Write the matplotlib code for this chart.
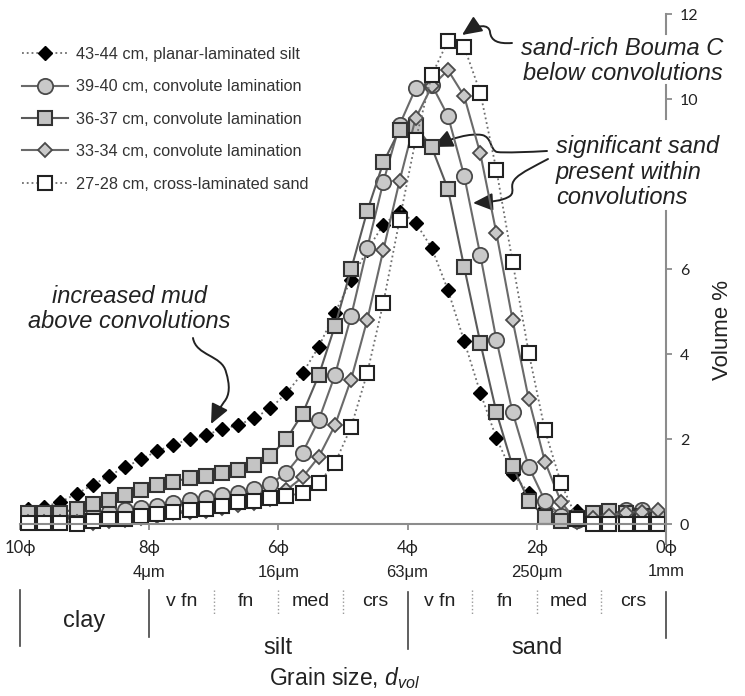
import matplotlib
matplotlib.use('Agg')
import matplotlib.pyplot as plt
import matplotlib.transforms as mtransforms
from matplotlib import font_manager
from matplotlib.path import Path
from matplotlib.patches import FancyArrowPatch

plt.rcParams['font.family'] = ['Liberation Sans', 'DejaVu Sans']
plt.rcParams['mathtext.fontset'] = 'custom'
plt.rcParams['mathtext.it'] = 'Liberation Sans:italic'
plt.rcParams['mathtext.rm'] = 'Liberation Sans'

# grain size bins (phi), coarse to the right
phi = [9.875, 9.625, 9.375, 9.125, 8.875, 8.625, 8.375, 8.125, 7.875, 7.625,
       7.375, 7.125, 6.875, 6.625, 6.375, 6.125, 5.875, 5.625, 5.375, 5.125,
       4.875, 4.625, 4.375, 4.125, 3.875, 3.625, 3.375, 3.125, 2.875, 2.625,
       2.375, 2.125, 1.875, 1.625, 1.375, 1.125, 0.875, 0.625, 0.375, 0.125]

# volume % per sample
v43 = [0.35, 0.40, 0.52, 0.71, 0.92, 1.13, 1.34, 1.52, 1.72, 1.86,
       2.00, 2.09, 2.23, 2.33, 2.49, 2.72, 3.08, 3.55, 4.17, 4.97,
       5.74, 6.45, 7.04, 7.35, 7.09, 6.49, 5.50, 4.31, 3.09, 2.02,
       1.18, 0.74, 0.38, 0.22, 0.31, 0.00, 0.00, 0.00, 0.00, 0.00]
v39 = [0.15, 0.15, 0.17, 0.20, 0.22, 0.29, 0.33, 0.37, 0.42, 0.50,
       0.56, 0.62, 0.68, 0.74, 0.82, 0.94, 1.21, 1.68, 2.45, 3.50,
       4.89, 6.49, 8.05, 9.39, 10.25, 10.33, 9.60, 8.20, 6.33, 4.33,
       2.63, 1.35, 0.55, 0.19, 0.10, 0.15, 0.22, 0.33, 0.33, 0.22]
v36 = [0.25, 0.25, 0.27, 0.35, 0.47, 0.56, 0.68, 0.80, 0.92, 1.00,
       1.08, 1.13, 1.19, 1.27, 1.39, 1.60, 2.00, 2.60, 3.50, 4.66,
       5.99, 7.36, 8.51, 9.27, 9.36, 8.86, 7.88, 6.05, 4.27, 2.63,
       1.36, 0.55, 0.16, 0.08, 0.15, 0.27, 0.30, 0.25, 0.20, 0.15]
v33 = [0.05, 0.05, 0.05, 0.05, 0.02, 0.08, 0.10, 0.15, 0.20, 0.25,
       0.28, 0.30, 0.38, 0.45, 0.50, 0.58, 0.80, 1.10, 1.58, 2.32,
       3.40, 4.80, 6.45, 8.07, 9.55, 10.30, 10.68, 10.07, 8.72, 6.84,
       4.80, 2.94, 1.47, 0.52, 0.05, 0.15, 0.20, 0.27, 0.29, 0.33]
v27 = [0.02, 0.02, 0.02, 0.00, 0.08, 0.11, 0.11, 0.19, 0.24, 0.29,
       0.32, 0.35, 0.43, 0.52, 0.54, 0.61, 0.65, 0.74, 0.97, 1.43,
       2.28, 3.55, 5.21, 7.15, 9.04, 10.56, 11.37, 11.23, 10.15, 8.33,
       6.17, 4.03, 2.21, 0.96, 0.11, 0.00, 0.00, 0.00, 0.00, 0.00]

labels = ['43-44 cm, planar-laminated silt',
          '39-40 cm, convolute lamination',
          '36-37 cm, convolute lamination',
          '33-34 cm, convolute lamination',
          '27-28 cm, cross-laminated sand']

phi_ticks = [10, 8, 6, 4, 2, 0]
phi_labels = ['10\u03d5', '8\u03d5', '6\u03d5', '4\u03d5', '2\u03d5', '0\u03d5']
um_ticks = [8, 6, 4, 2, 0]
um_labels = ['4\u03bcm', '16\u03bcm', '63\u03bcm', '250\u03bcm', '1mm']
y_ticks = [0, 2, 4, 6, 10, 12]

sub_pos = [7.5, 6.5, 5.5, 4.5, 3.5, 2.5, 1.5, 0.5]
sub_labels = ['v fn', 'fn', 'med', 'crs', 'v fn', 'fn', 'med', 'crs']

names = {f.name for f in font_manager.fontManager.ttflist}
narrow = 'Liberation Sans Narrow' if 'Liberation Sans Narrow' in names else 'Liberation Sans'
numfont = ['Lato', 'DejaVu Sans']

W, H = 745, 696
fig = plt.figure(figsize=(W / 100, H / 100), dpi=100)
ax = fig.add_axes([20 / W, 1 - 545.25 / H, 646 / W, 539.75 / H])
ax.set_xlim(10, 0)
ax.set_ylim(-0.5, 12.2)


def px2d(px, py):
    return (10 - (px - 20) / 64.6, (524 - py) / 42.5)


def fy(py):
    return 1 - py / H


ax.plot(phi, v43, ls=':', color='#6e6e6e', lw=1.3, marker='D', ms=7,
        mfc='black', mec='black', label=labels[0])
ax.plot(phi, v39, ls='-', color='#6a6a6a', lw=1.5, marker='o', ms=11,
        mfc='#c9c9c9', mec='#4a4a4a', mew=1.3, label=labels[1])
ax.plot(phi, v36, ls='-', color='#5a5a5a', lw=1.5, marker='s', ms=9.6,
        mfc='#c4c4c4', mec='#333333', mew=1.5, label=labels[2])
ax.plot(phi, v33, ls='-', color='#6a6a6a', lw=1.5, marker='D', ms=7.3,
        mfc='#c9c9c9', mec='#4a4a4a', mew=1.3, label=labels[3])
ax.plot(phi, v27, ls=':', color='#6e6e6e', lw=1.3, marker='s', ms=9.6,
        mfc='white', mec='#222222', mew=1.5, label=labels[4])

# axes
for s in ['left', 'top']:
    ax.spines[s].set_visible(False)
ax.spines['bottom'].set_position(('data', 0))
ax.spines['bottom'].set_color('#8c8c8c')
ax.spines['bottom'].set_linewidth(1.5)
ax.spines['right'].set_color('#8c8c8c')
ax.spines['right'].set_linewidth(1.5)
ax.spines['right'].set_bounds(-0.47, 7.36)
for lo, hi in [(9.53, 10.33), (11.53, 12.0)]:
    ax.plot([0, 0], [lo, hi], color='#8c8c8c', lw=1.5, clip_on=False)

ax.yaxis.tick_right()
ax.set_yticks(y_ticks)
ax.tick_params(axis='y', direction='out', length=4, width=1.3, color='#8c8c8c',
               pad=6, labelsize=11.5, labelcolor='#222222')
for t in ax.get_yticklabels():
    t.set_fontfamily(numfont)
ax.set_xticks(phi_ticks)
ax.set_xticklabels([''] * len(phi_ticks))
ax.tick_params(axis='x', direction='out', length=4, width=1.3, color='#8c8c8c')

bt = mtransforms.blended_transform_factory(ax.transData, fig.transFigure)
for p, lab in zip(phi_ticks, phi_labels):
    ax.text(p, fy(548), lab, transform=bt, ha='center', va='center',
            fontsize=12, family=numfont, color='#222222')
for p, lab in zip(um_ticks, um_labels):
    ax.text(p, fy(572), lab, transform=bt, ha='center', va='center',
            fontsize=12, family=narrow, color='#222222')

# grain size class scale
for p, top, bot in [(10, 590, 646), (8, 590, 637), (4, 592, 649), (0, 592, 638)]:
    ax.plot([p, p], [fy(top), fy(bot)], transform=bt, color='#444444', lw=1.2, clip_on=False)
for p in [7, 6, 5, 3, 2, 1]:
    ax.plot([p, p], [fy(590), fy(615)], transform=bt, color='#999999', lw=1, ls=':', clip_on=False)
for p, lab in zip(sub_pos, sub_labels):
    ax.text(p, fy(601), lab, transform=bt, ha='center', va='center',
            fontsize=14, family=narrow, color='#222222')
ax.text(9.0, fy(621), 'clay', transform=bt, ha='center', va='center', fontsize=17, family=narrow, color='#222222')
ax.text(6.0, fy(648), 'silt', transform=bt, ha='center', va='center', fontsize=17, family=narrow, color='#222222')
ax.text(2.0, fy(648), 'sand', transform=bt, ha='center', va='center', fontsize=17, family=narrow, color='#222222')
fig.text(345 / W, fy(678), 'Grain size, $d_{vol}$', ha='center', va='center', fontsize=16.5, color='#222222')
fig.text(722 / W, fy(330), 'Volume %', rotation=90, ha='center', va='center', fontsize=16, color='#222222')

leg = ax.legend(loc='upper left', bbox_to_anchor=(22 / W, fy(47)), bbox_transform=fig.transFigure,
                frameon=False, fontsize=11.7, handlelength=2.8, handletextpad=0.55,
                labelspacing=1.07, borderpad=0, borderaxespad=0)
for t in leg.get_texts():
    t.set_color('#333333')

# annotations
ann = dict(style='italic', fontsize=17, color='#222222', va='center', linespacing=1.15)
ax.text(*px2d(723, 61), 'sand-rich Bouma C\nbelow convolutions', ha='right', multialignment='right', **ann)
ax.text(*px2d(556, 172), 'significant sand\npresent within\nconvolutions', ha='left', multialignment='left', **ann)
ax.text(*px2d(129, 309), 'increased mud\nabove convolutions', ha='center', multialignment='center', **ann)


def curved_arrow(pts):
    verts = [px2d(x, y) for x, y in pts]
    codes = [Path.MOVETO] + [Path.CURVE4] * (len(pts) - 1)
    a = FancyArrowPatch(path=Path(verts, codes), arrowstyle='-|>,head_length=0.6,head_width=0.27',
                        mutation_scale=20, lw=1.4, color='#222222', clip_on=False)
    ax.add_patch(a)


curved_arrow([(512, 43), (498, 44), (491, 41), (490, 32), (489, 24), (478, 24), (462, 35)])
curved_arrow([(547, 151), (530, 152), (505, 153), (497, 152), (490, 150), (492, 137), (482, 135),
              (470, 133), (452, 138), (433, 147)])
curved_arrow([(548, 159), (535, 166), (522, 172), (516, 178), (508, 186), (516, 191), (510, 196),
              (503, 201), (490, 202), (473, 203)])
curved_arrow([(193, 338), (196, 356), (222, 355), (226, 372), (230, 385), (230, 395), (224, 402),
              (220, 408), (216, 414), (211, 424)])

fig.savefig('out.png', dpi=100)
